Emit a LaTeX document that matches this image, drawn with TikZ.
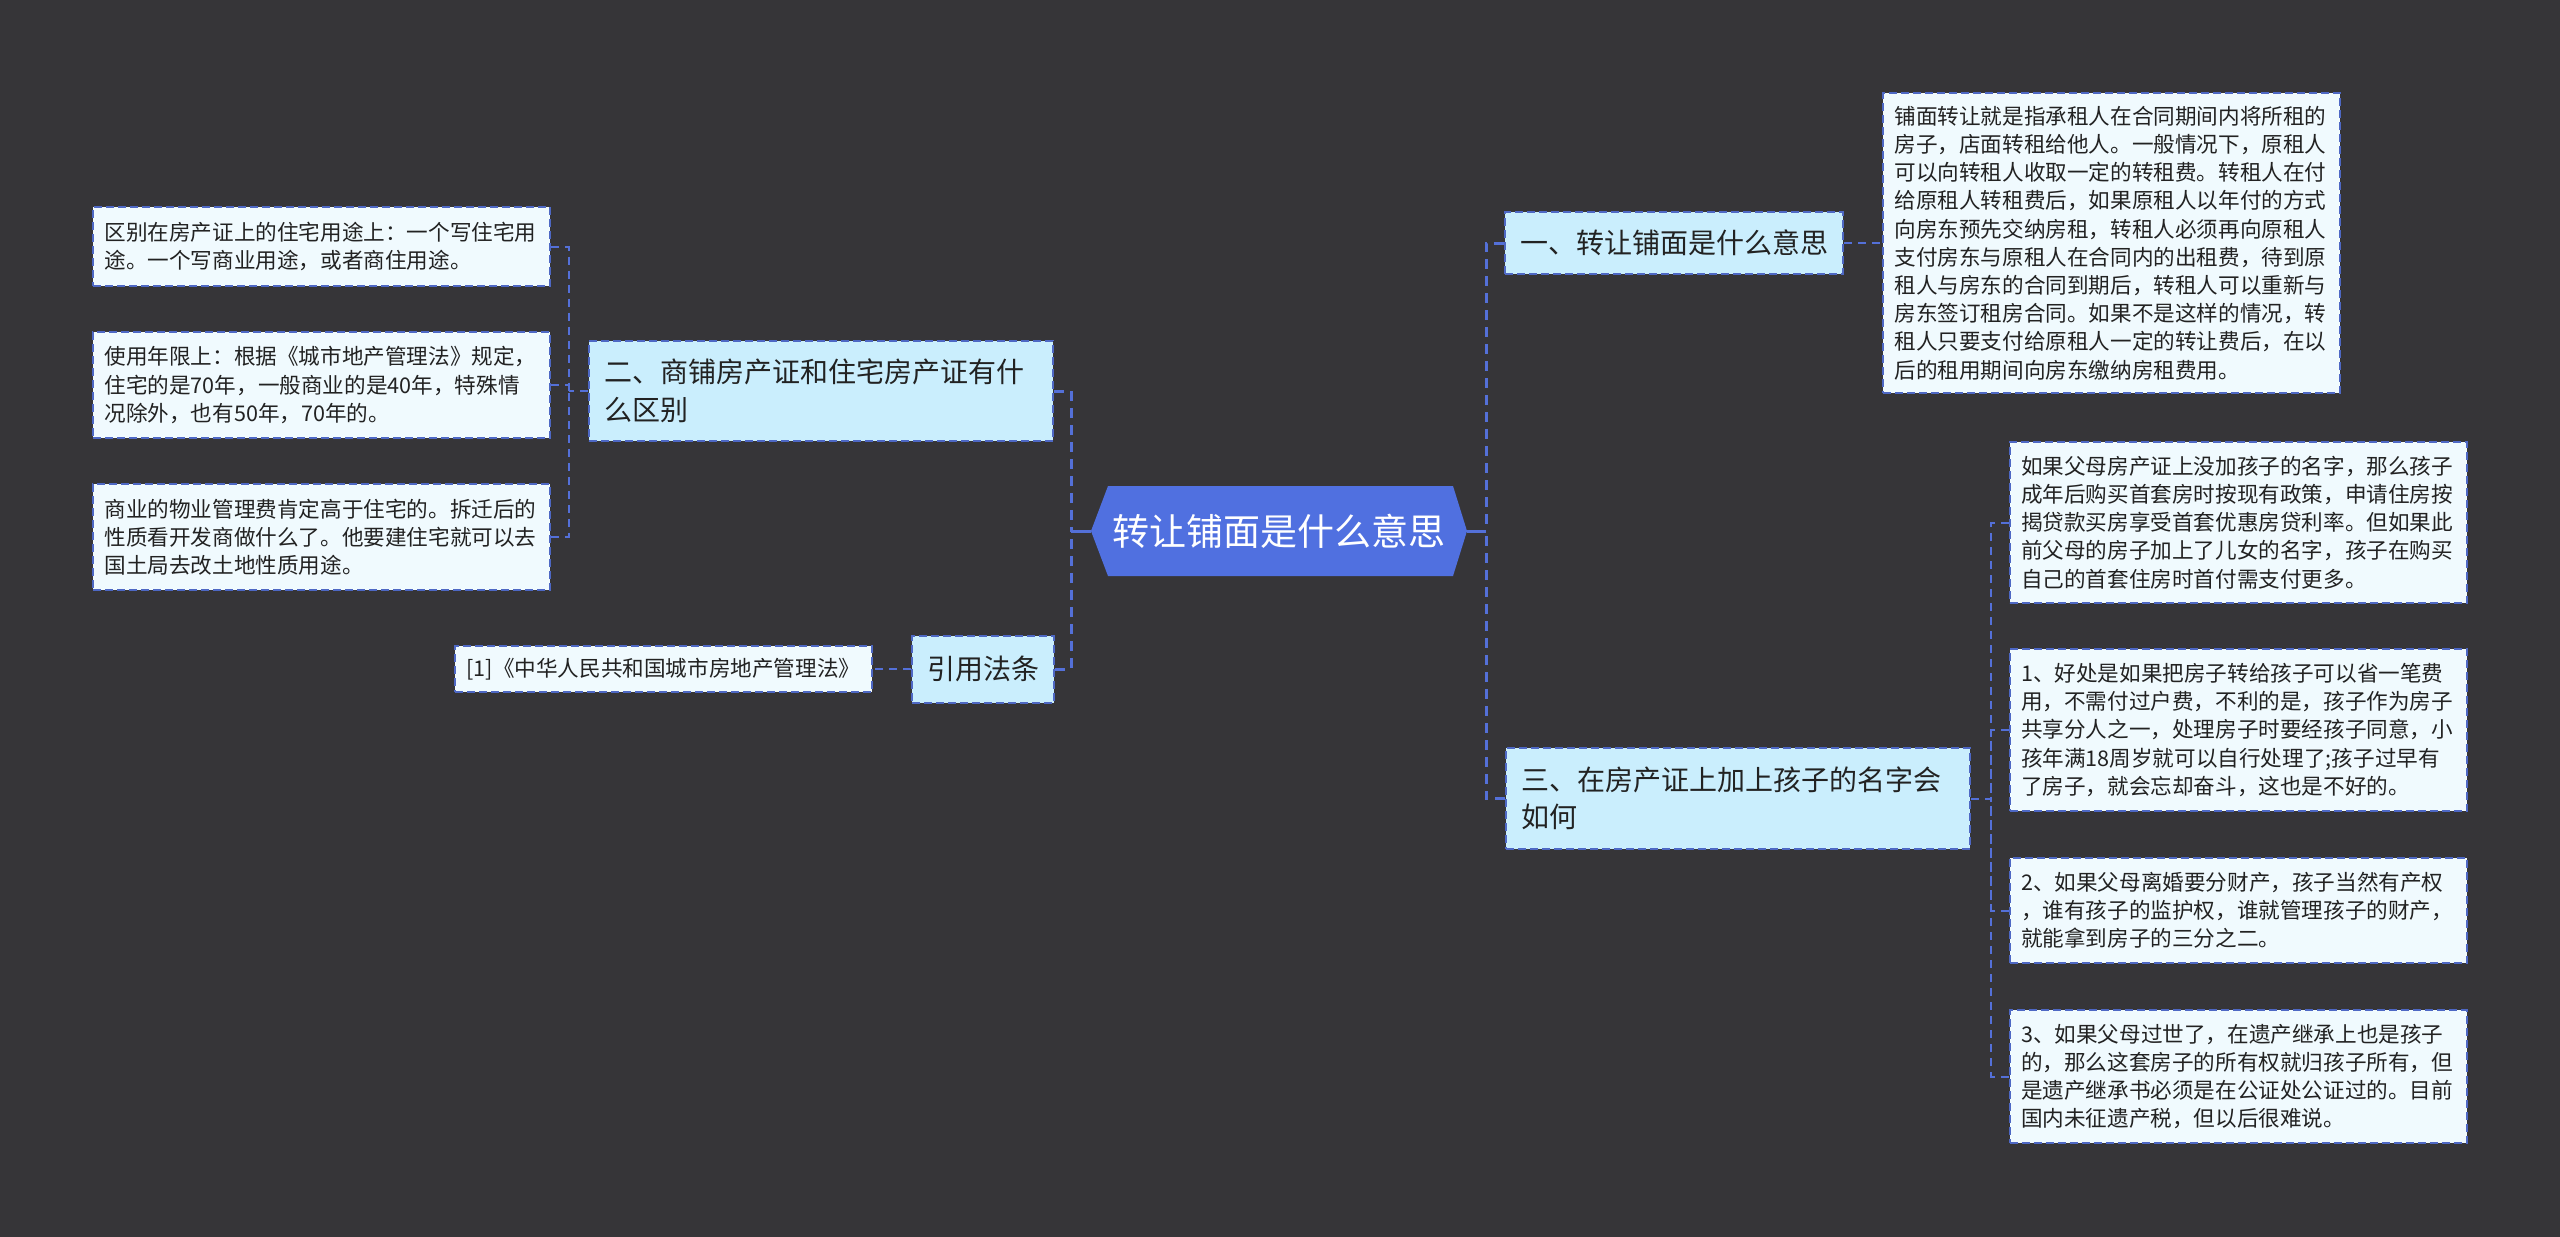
\documentclass[tikz,border=0pt]{standalone}
\usepackage{fontspec}
\setmainfont{Noto Sans CJK SC}
\definecolor{bgc}{RGB}{54,53,56}
\definecolor{ctrfill}{RGB}{80,112,224}
\definecolor{lvfill}{RGB}{202,238,253}
\definecolor{leaffill}{RGB}{240,250,254}
\definecolor{edgec}{RGB}{78,104,196}
\definecolor{linec}{RGB}{84,112,216}
\definecolor{txtc}{RGB}{34,34,34}
\newcommand\leaffont{\fontsize{21.6pt}{28.2pt}\selectfont}
\newcommand\lvfont{\fontsize{28pt}{37.5pt}\selectfont}
\newcommand\ctrfont{\fontsize{37pt}{44pt}\selectfont}
\tikzset{
  leafbox/.style={draw=edgec, fill=leaffill, line width=2pt, dash pattern=on 8pt off 4pt,
    text=txtc, font=\leaffont, text width=434pt, inner xsep=11.5pt, inner ysep=0pt, align=left, anchor=center},
  lvbox/.style={draw=edgec, fill=lvfill, line width=2pt, dash pattern=on 8pt off 4pt,
    text=txtc, font=\lvfont, inner xsep=15pt, inner ysep=0pt, anchor=center},
  ctrtext/.style={text=white, font=\ctrfont, inner sep=0pt},
  solidc/.style={draw=linec, line width=3pt},
  spinec/.style={draw=linec, line width=3pt, dash pattern=on 10pt off 7pt},
  leafc/.style={draw=linec, line width=2pt, dash pattern=on 8pt off 6pt},
}
\begin{document}
\begin{tikzpicture}[x=1pt,y=-1pt]
\fill[bgc] (0,0) rectangle (2560,1237);
\useasboundingbox (0,0) rectangle (2560,1237);

% center node
\fill[ctrfill] (1091,531) -- (1108,486) -- (1453,486) -- (1467,531) -- (1453,576) -- (1108,576) -- cycle;
\node[ctrtext] (ctr) at (1279,531) {转让铺面是什么意思};
\coordinate (cL) at (1091,531);
\coordinate (cR) at (1467,531);
\coordinate (sL) at (1071,531);
\coordinate (sR) at (1486,531);

% level 1
\node[lvbox, minimum width=338pt, minimum height=62pt] (n1) at (1674,243) {一、转让铺面是什么意思};
\node[lvbox, text width=434pt, align=left, minimum height=100pt] (n2) at (821,391) {二、商铺房产证和住宅房产证有什\\么区别};
\node[lvbox, text width=434pt, align=left, minimum height=101pt] (n3) at (1738,798.5) {三、在房产证上加上孩子的名字会\\如何};
\node[lvbox, minimum width=140pt, minimum height=67pt] (n4) at (983,669) {引用法条};

% leaves right
\node[leafbox, minimum height=300pt] (p) at (2111.5,243) {铺面转让就是指承租人在合同期间内将所租的\\房子，店面转租给他人。一般情况下，原租人\\可以向转租人收取一定的转租费。转租人在付\\给原租人转租费后，如果原租人以年付的方式\\向房东预先交纳房租，转租人必须再向原租人\\支付房东与原租人在合同内的出租费，待到原\\租人与房东的合同到期后，转租人可以重新与\\房东签订租房合同。如果不是这样的情况，转\\租人只要支付给原租人一定的转让费后，在以\\后的租用期间向房东缴纳房租费用。};
\node[leafbox, minimum height=161pt] (r1) at (2238,522.5) {如果父母房产证上没加孩子的名字，那么孩子\\成年后购买首套房时按现有政策，申请住房按\\揭贷款买房享受首套优惠房贷利率。但如果此\\前父母的房子加上了儿女的名字，孩子在购买\\自己的首套住房时首付需支付更多。};
\node[leafbox, minimum height=162pt] (r2) at (2238,730) {1、好处是如果把房子转给孩子可以省一笔费\\用，不需付过户费，不利的是，孩子作为房子\\共享分人之一，处理房子时要经孩子同意，小\\孩年满18周岁就可以自行处理了;孩子过早有\\了房子，就会忘却奋斗，这也是不好的。};
\node[leafbox, minimum height=105pt] (r3) at (2238,910.5) {2、如果父母离婚要分财产，孩子当然有产权\\，谁有孩子的监护权，谁就管理孩子的财产，\\就能拿到房子的三分之二。};
\node[leafbox, minimum height=133pt] (r4) at (2238,1076.5) {3、如果父母过世了，在遗产继承上也是孩子\\的，那么这套房子的所有权就归孩子所有，但\\是遗产继承书必须是在公证处公证过的。目前\\国内未征遗产税，但以后很难说。};

% leaves left
\node[leafbox, minimum height=79pt] (la) at (321.5,246.5) {区别在房产证上的住宅用途上：一个写住宅用\\途。一个写商业用途，或者商住用途。};
\node[leafbox, minimum height=106pt] (lb) at (321.5,385) {使用年限上：根据《城市地产管理法》规定，\\住宅的是70年，一般商业的是40年，特殊情\\况除外，也有50年，70年的。};
\node[leafbox, minimum height=106pt] (lc) at (321.5,537) {商业的物业管理费肯定高于住宅的。拆迁后的\\性质看开发商做什么了。他要建住宅就可以去\\国土局去改土地性质用途。};
\node[draw=edgec, fill=leaffill, line width=2pt, dash pattern=on 8pt off 4pt, text=txtc, font=\leaffont,
  minimum width=417pt, minimum height=46pt, inner sep=0pt] (law) at (663.5,669) {[1]《中华人民共和国城市房地产管理法》};

% connectors center
\draw[solidc] (cR) -- (sR);
\draw[solidc] (cL) -- (sL);
\draw[spinec] (n1.west) -| (sR);
\draw[spinec] (n3.west) -| (sR);
\draw[spinec] (n2.east) -| (sL);
\draw[spinec] (n4.east) -| (sL);

% level 1 to leaves
\draw[leafc] (n1.east) -- (p.west);
\draw[leafc] (n4.west) -- (law.east);
\draw[leafc] (n2.west) -- ++(-19,0) coordinate (s2);
\draw[leafc] (la.east) -| (s2);
\draw[leafc] (lb.east) -| (s2);
\draw[leafc] (lc.east) -| (s2);
\draw[leafc] (n3.east) -- ++(20,0) coordinate (s3);
\draw[leafc] (r1.west) -| (s3);
\draw[leafc] (r2.west) -| (s3);
\draw[leafc] (r3.west) -| (s3);
\draw[leafc] (r4.west) -| (s3);
\end{tikzpicture}
\end{document}
